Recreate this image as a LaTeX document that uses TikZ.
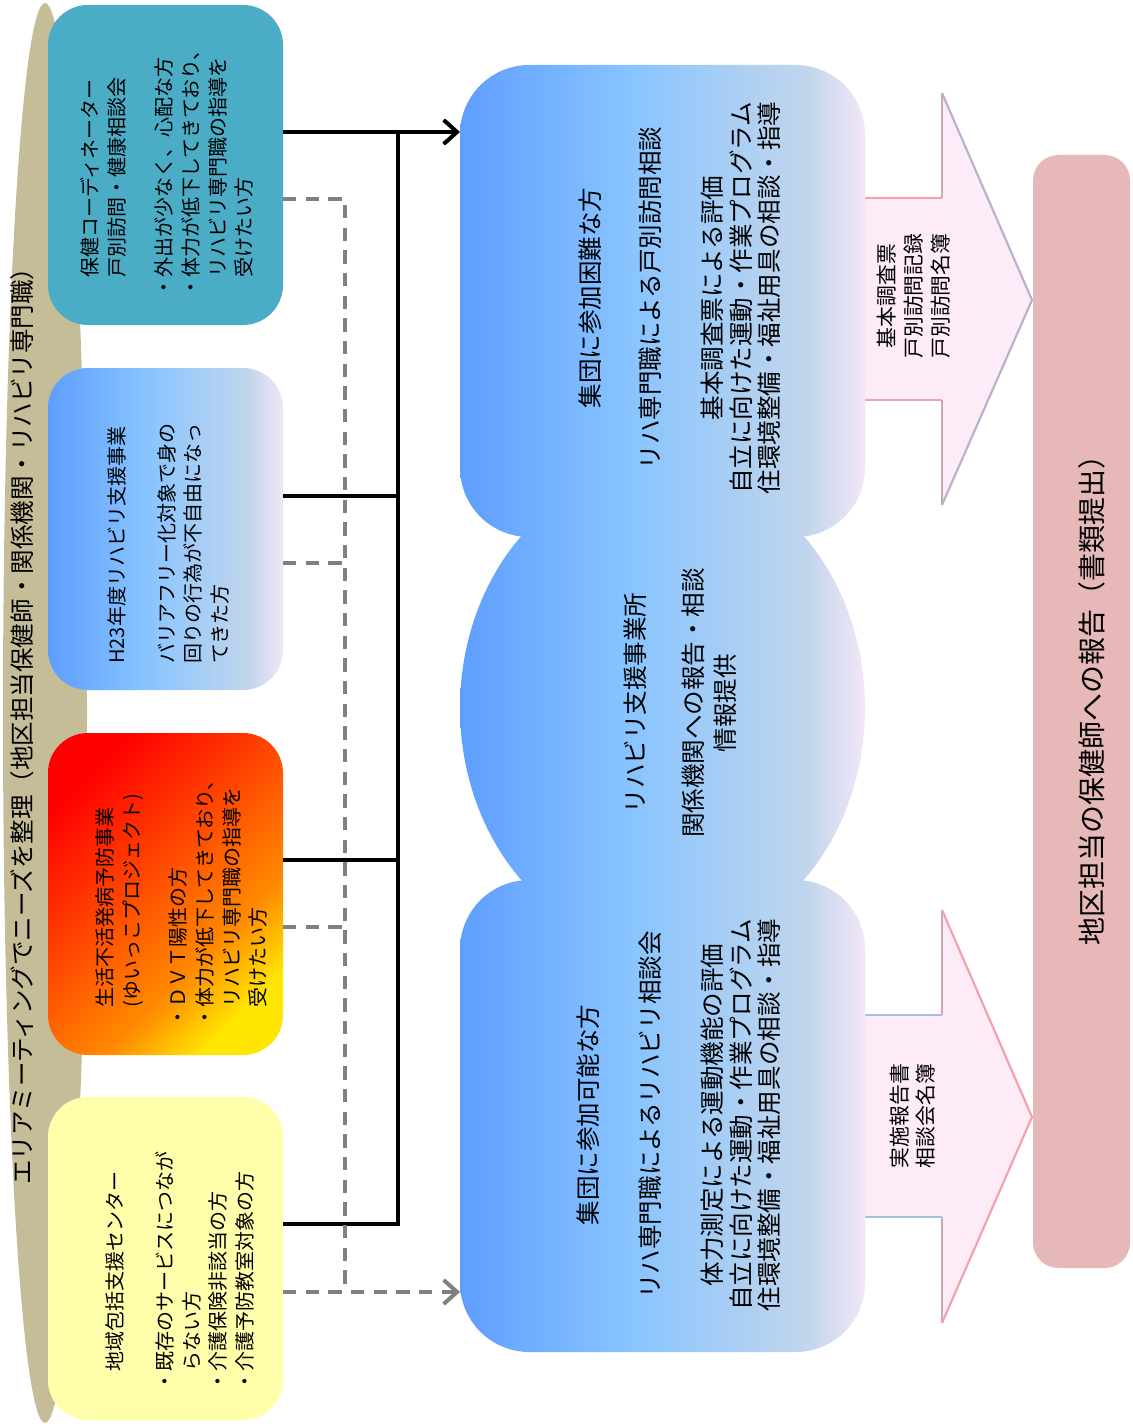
\documentclass[tikz,border=0pt]{standalone}
\usepackage{fontspec}
\setmainfont{Noto Sans CJK JP}
\usetikzlibrary{arrows.meta,patterns,shapes.geometric}
\definecolor{tanc}{HTML}{C4BD97}
\definecolor{tealc}{HTML}{4BACC6}
\definecolor{dbA}{HTML}{5E9EFF}
\definecolor{dbB}{HTML}{88C4FF}
\definecolor{dbC}{HTML}{C2D6EC}
\definecolor{dbD}{HTML}{F2E6F8}
\definecolor{fA}{HTML}{FF0000}
\definecolor{fB}{HTML}{FF5A00}
\definecolor{fC}{HTML}{FF8A00}
\definecolor{fD}{HTML}{FFE600}
\definecolor{ylw}{HTML}{FFFF8C}
\definecolor{pinkfill}{HTML}{FDEBF8}
\definecolor{rosec}{HTML}{E6B9B8}
\definecolor{dashc}{HTML}{808080}
\definecolor{edgePink}{HTML}{F4A0A8}
\definecolor{edgeMauve}{HTML}{C9A8BE}
\definecolor{edgeBlue}{HTML}{A9BFE0}
\definecolor{edgeLav}{HTML}{B8B0CC}
\pgfdeclarehorizontalshading{daybreak}{100bp}{color(0bp)=(dbA); color(25bp)=(dbA); color(46bp)=(dbB); color(68bp)=(dbC); color(75bp)=(dbD); color(100bp)=(dbD)}
\pgfdeclarehorizontalshading{fire}{100bp}{color(0bp)=(fA); color(25bp)=(fA); color(50bp)=(fB); color(63bp)=(fC); color(75bp)=(fD); color(100bp)=(fD)}
\begin{document}
\begin{tikzpicture}[x=0.75pt,y=-0.75pt,
  box/.style={rectangle, rounded corners=30pt, minimum width=235*0.75pt, inner sep=0pt, outer sep=0pt},
  bigbox/.style={rectangle, rounded corners=52pt, shade, shading=daybreak, minimum width=405*0.75pt, minimum height=472*0.75pt, inner sep=0pt, outer sep=0pt},
  ltxt/.style={rotate=90, anchor=west, align=left, inner sep=0pt, font=\fontsize{15}{20}\selectfont},
  ctxt/.style={rotate=90, align=center, inner sep=0pt, font=\fontsize{18.4}{21.5}\selectfont},
  atxt/.style={rotate=90, align=center, inner sep=0pt, font=\fontsize{15.6}{20}\selectfont},
  conn/.style={line width=3pt, black, line join=miter},
  dconn/.style={line width=3pt, dashc, dash pattern=on 10pt off 7pt},
  barb/.style={-{Straight Barb[length=10pt,width=18pt]}}
]
\useasboundingbox (0,0) rectangle (1132,1426);
\fill[white] (0,0) rectangle (1132,1426);

% left tan band
\node[ellipse, fill=tanc, minimum width=84*0.75pt, minimum height=1420*0.75pt, inner sep=0pt] (tan) at (45,713) {};
\node[rotate=90, inner sep=0pt, font=\fontsize{18.4}{22}\selectfont] (tanT) at (22,720) {エリアミーティングでニーズを整理（地区担当保健師・関係機関・リハビリ専門職）};

% left boxes
\node[box, fill=tealc, minimum height=320*0.75pt] (boxA) at (165.5,165) {};
\node[box, shade, shading=daybreak, minimum height=322*0.75pt] (boxB) at (165.5,529) {};
\node[box, shade, shading=fire, shading angle=-45, minimum height=322*0.75pt] (boxC) at (165.5,894) {};
\node[box, fill=ylw, postaction={pattern=north east lines, pattern color=ylw!40!white}, postaction={pattern=north west lines, pattern color=ylw!40!white}, minimum height=323*0.75pt] (boxD) at (165.5,1258.5) {};

\node[ltxt] (tA) at (167,298) {\hspace*{1em}保健コーディネーター\\
\hspace*{1em}戸別訪問・健康相談会\\[15.5pt]
・外出が少なく、心配な方\\
・体力が低下してきており、\\
\hspace*{1em}リハビリ専門職の指導を\\
\hspace*{1em}受けたい方};
\node[ltxt] (tB) at (168.5,664) {H23年度リハビリ支援事業\\[17.3pt]
バリアフリー化対象で身の\\
回りの行為が不自由になっ\\
てきた方};
\node[ltxt] (tC) at (181.5,1028) {\hspace*{1em}生活不活発病予防事業\\
\hspace*{1em}(ゆいっこプロジェクト)\\[15pt]
・ＤＶＴ陽性の方\\
・体力が低下してきており、\\
\hspace*{1em}リハビリ専門職の指導を\\
\hspace*{1em}受けたい方};
\node[ltxt] (tD) at (180,1392) {\hspace*{1em}地域包括支援センター\\[17.5pt]
・既存のサービスにつなが\\
\hspace*{1em}らない方\\
・介護保険非該当の方\\
・介護予防教室対象の方};

% block arrows
\fill[pinkfill] (865,198) -- (942,198) -- (942,93) -- (1032,300) -- (942,505) -- (942,400) -- (865,400) -- cycle;
\draw[edgePink, line width=1.6pt] (865,198) -- (942,198) (942,400) -- (865,400);
\draw[edgeMauve, line width=1.6pt] (942,198) -- (942,93) (942,505) -- (942,400);
\draw[edgeLav, line width=1.6pt, line join=round] (942,93) -- (1032,300) -- (942,505);
\fill[pinkfill] (865,1015) -- (942,1015) -- (942,910) -- (1032,1117) -- (942,1323) -- (942,1217) -- (865,1217) -- cycle;
\draw[edgeBlue, line width=1.6pt] (865,1015) -- (942,1015) (942,1217) -- (865,1217);
\draw[edgeMauve, line width=1.6pt] (942,1015) -- (942,910) (942,1323) -- (942,1217);
\draw[edgePink, line width=1.6pt, line join=round] (942,910) -- (1032,1117) -- (942,1323);

% central composite shape
\node[ellipse, shade, shading=daybreak, minimum width=405*0.75pt, minimum height=480*0.75pt, inner sep=0pt] (mid) at (662.5,708) {};
\node[bigbox] (top) at (662.5,301) {};
\node[bigbox] (bot) at (662.5,1116) {};

\node[ctxt] (tTop) at (680,298) {集団に参加困難な方\\[23.5pt]
リハ専門職による戸別訪問相談\\[25pt]
基本調査票による評価\\
自立に向けた運動・作業プログラム\\
住環境整備・福祉用具の相談・指導};
\node[ctxt] (tMid) at (680,703) {リハビリ支援事業所\\[22pt]
関係機関への報告・相談\\[2.5pt]
情報提供};
\node[ctxt] (tBot) at (679,1115) {集団に参加可能な方\\[25pt]
リハ専門職によるリハビリ相談会\\[25pt]
体力測定による運動機能の評価\\
自立に向けた運動・作業プログラム\\
住環境整備・福祉用具の相談・指導};

\node[atxt] (aTop) at (913.5,296) {基本調査票\\戸別訪問記録\\戸別訪問名簿};
\node[atxt] (aBot) at (912.5,1116) {実施報告書\\相談会名簿};

% right box
\node[rectangle, rounded corners=19pt, fill=rosec, minimum width=97*0.75pt, minimum height=1113*0.75pt, inner sep=0pt] (rbox) at (1081.5,711.5) {};
\node[rotate=90, inner sep=0pt, font=\fontsize{21}{24}\selectfont] (rT) at (1092,693) {地区担当の保健師への報告（書類提出）};

% connectors
\coordinate (bj1) at (398,132);
\coordinate (bj2) at (398,496);
\coordinate (bj3) at (398,860);
\coordinate (bj4) at (398,1224);
\coordinate (dj1) at (345,199);
\coordinate (dj2) at (345,563);
\coordinate (dj3) at (345,927);
\coordinate (dj4) at (345,1292);

\draw[conn, barb] (boxA.east |- bj1) -- (top.west |- bj1);
\draw[conn] (boxD.east |- bj4) -- (bj4) -- (bj1);
\draw[conn] (boxB.east |- bj2) -- (bj2);
\draw[conn] (boxC.east |- bj3) -- (bj3);

\draw[dconn] (boxA.east |- dj1) -- (dj1) -- (dj4);
\draw[dconn] (boxB.east |- dj2) -- (dj2);
\draw[dconn] (boxC.east |- dj3) -- (dj3);
\draw[dconn, barb] (boxD.east |- dj4) -- (bot.west |- dj4);
\end{tikzpicture}
\end{document}
